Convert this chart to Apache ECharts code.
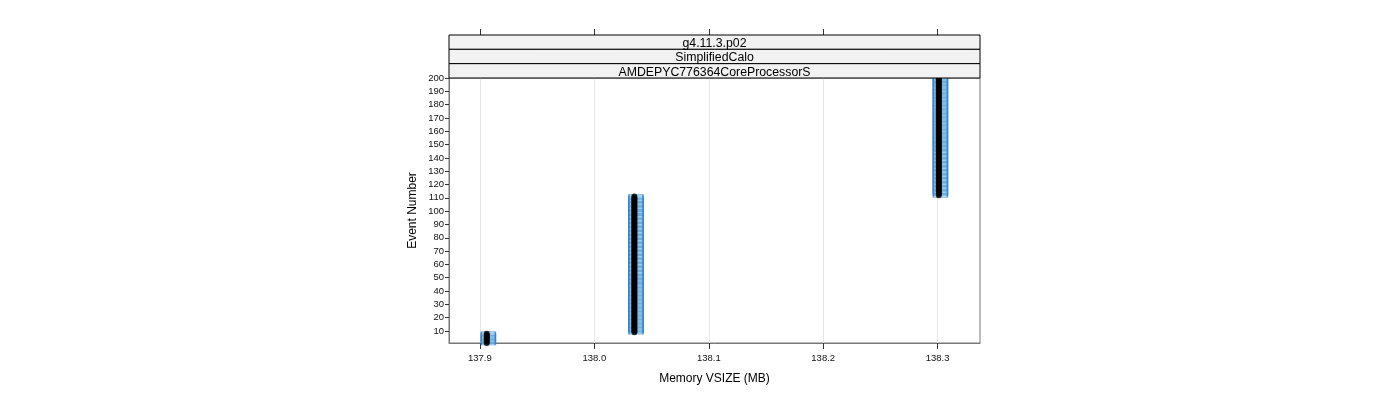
<!DOCTYPE html>
<html>
<head>
<meta charset="utf-8">
<script src="https://cdn.jsdelivr.net/npm/echarts@6/dist/echarts.min.js"></script>
<style>
  html, body { margin: 0; padding: 0; background: #fff; }
  #chart { width: 1400px; height: 400px; }
</style>
</head>
<body>
<div id="chart"></div>
<script>
// strip labels (lattice panel header), top to bottom
const stripLabels = ['g4.11.3.p02', 'SimplifiedCalo', 'AMDEPYC776364CoreProcessorS'];

const xTicks = [137.9, 138.0, 138.1, 138.2, 138.3];
const yTicks = [10, 20, 30, 40, 50, 60, 70, 80, 90, 100,
                110, 120, 130, 140, 150, 160, 170, 180, 190, 200];

// event number for each measurement
const eventNumber = [
  1, 2, 3, 4, 5, 6, 7, 8, 9, 10, 11, 12, 13, 14, 15, 16, 17, 18, 19, 20,
  21, 22, 23, 24, 25, 26, 27, 28, 29, 30, 31, 32, 33, 34, 35, 36, 37, 38, 39, 40,
  41, 42, 43, 44, 45, 46, 47, 48, 49, 50, 51, 52, 53, 54, 55, 56, 57, 58, 59, 60,
  61, 62, 63, 64, 65, 66, 67, 68, 69, 70, 71, 72, 73, 74, 75, 76, 77, 78, 79, 80,
  81, 82, 83, 84, 85, 86, 87, 88, 89, 90, 91, 92, 93, 94, 95, 96, 97, 98, 99, 100,
  101, 102, 103, 104, 105, 106, 107, 108, 109, 110, 111, 112, 113, 114, 115, 116, 117, 118, 119, 120,
  121, 122, 123, 124, 125, 126, 127, 128, 129, 130, 131, 132, 133, 134, 135, 136, 137, 138, 139, 140,
  141, 142, 143, 144, 145, 146, 147, 148, 149, 150, 151, 152, 153, 154, 155, 156, 157, 158, 159, 160,
  161, 162, 163, 164, 165, 166, 167, 168, 169, 170, 171, 172, 173, 174, 175, 176, 177, 178, 179, 180,
  181, 182, 183, 184, 185, 186, 187, 188, 189, 190, 191, 192, 193, 194, 195, 196, 197, 198, 199, 200
];

// memory VSIZE (MB) per event, same order as eventNumber
const memVsize = [
  137.906, 137.906, 137.906, 137.906, 137.906, 137.906, 137.906, 137.906, 138.035, 138.035,
  138.035, 138.035, 138.035, 138.035, 138.035, 138.035, 138.035, 138.035, 138.035, 138.035,
  138.035, 138.035, 138.035, 138.035, 138.035, 138.035, 138.035, 138.035, 138.035, 138.035,
  138.035, 138.035, 138.035, 138.035, 138.035, 138.035, 138.035, 138.035, 138.035, 138.035,
  138.035, 138.035, 138.035, 138.035, 138.035, 138.035, 138.035, 138.035, 138.035, 138.035,
  138.035, 138.035, 138.035, 138.035, 138.035, 138.035, 138.035, 138.035, 138.035, 138.035,
  138.035, 138.035, 138.035, 138.035, 138.035, 138.035, 138.035, 138.035, 138.035, 138.035,
  138.035, 138.035, 138.035, 138.035, 138.035, 138.035, 138.035, 138.035, 138.035, 138.035,
  138.035, 138.035, 138.035, 138.035, 138.035, 138.035, 138.035, 138.035, 138.035, 138.035,
  138.035, 138.035, 138.035, 138.035, 138.035, 138.035, 138.035, 138.035, 138.035, 138.035,
  138.035, 138.035, 138.035, 138.035, 138.035, 138.035, 138.035, 138.035, 138.035, 138.035,
  138.035, 138.301, 138.301, 138.301, 138.301, 138.301, 138.301, 138.301, 138.301, 138.301,
  138.301, 138.301, 138.301, 138.301, 138.301, 138.301, 138.301, 138.301, 138.301, 138.301,
  138.301, 138.301, 138.301, 138.301, 138.301, 138.301, 138.301, 138.301, 138.301, 138.301,
  138.301, 138.301, 138.301, 138.301, 138.301, 138.301, 138.301, 138.301, 138.301, 138.301,
  138.301, 138.301, 138.301, 138.301, 138.301, 138.301, 138.301, 138.301, 138.301, 138.301,
  138.301, 138.301, 138.301, 138.301, 138.301, 138.301, 138.301, 138.301, 138.301, 138.301,
  138.301, 138.301, 138.301, 138.301, 138.301, 138.301, 138.301, 138.301, 138.301, 138.301,
  138.301, 138.301, 138.301, 138.301, 138.301, 138.301, 138.301, 138.301, 138.301, 138.301,
  138.301, 138.301, 138.301, 138.301, 138.301, 138.301, 138.301, 138.301, 138.301, 138.301
];

const points = memVsize.map((m, i) => [m, eventNumber[i]]);

const FONT = 'Liberation Sans, Arial, sans-serif';
const panel = { left: 449, top: 78, width: 531, height: 265 };
const stripTop = 35;
const stripH = (panel.top - stripTop) / stripLabels.length;

// strip boxes with their labels
const strips = [];
stripLabels.forEach((txt, i) => {
  strips.push({
    type: 'rect',
    shape: { x: panel.left, y: stripTop + i * stripH, width: panel.width, height: stripH },
    style: { fill: '#f2f2f2', stroke: '#000', lineWidth: 1 },
    z: 10
  });
  strips.push({
    type: 'text',
    x: panel.left + panel.width / 2,
    y: stripTop + i * stripH + stripH / 2 + 1.5,
    style: {
      text: txt, fill: '#000', font: '12.3px ' + FONT,
      align: 'center', verticalAlign: 'middle'
    },
    z: 11
  });
});

const chart = echarts.init(document.getElementById('chart'), null, { renderer: 'canvas' });

chart.setOption({
  animation: false,
  backgroundColor: '#fff',
  textStyle: { fontFamily: FONT },
  grid: {
    left: panel.left, top: panel.top, width: panel.width, height: panel.height,
    show: true, borderColor: '#777', borderWidth: 1, backgroundColor: 'transparent'
  },
  xAxis: [
    {
      type: 'value', position: 'bottom',
      min: 137.873, max: 138.337,
      name: 'Memory VSIZE (MB)', nameLocation: 'middle', nameGap: 30,
      nameTextStyle: { fontSize: 12, color: '#000', fontFamily: FONT },
      axisLine: { show: true, lineStyle: { color: '#777', width: 1 } },
      axisTick: { show: true, customValues: xTicks, length: 6, lineStyle: { color: '#333' } },
      axisLabel: {
        customValues: xTicks, fontSize: 9.5, color: '#111', margin: 10,
        formatter: v => v.toFixed(1)
      },
      splitLine: { show: true, lineStyle: { color: '#e6e6e6', width: 1 } }
    },
    {
      type: 'value', position: 'top', offset: panel.top - stripTop,
      min: 137.873, max: 138.337,
      axisLine: { show: false },
      axisTick: { show: true, customValues: xTicks, length: 6, lineStyle: { color: '#333' } },
      axisLabel: { show: false },
      splitLine: { show: false }
    }
  ],
  yAxis: {
    type: 'value', min: 1, max: 200,
    name: 'Event Number', nameLocation: 'middle', nameGap: 30,
    nameTextStyle: { fontSize: 12, color: '#000', fontFamily: FONT },
    axisLine: { show: true, lineStyle: { color: '#777', width: 1 } },
    axisTick: { show: true, customValues: yTicks, length: 4, lineStyle: { color: '#333' } },
    axisLabel: { customValues: yTicks, fontSize: 9.5, color: '#111', margin: 5 },
    splitLine: { show: false }
  },
  graphic: strips,
  series: [
    {
      name: 'range', type: 'scatter', data: points,
      symbol: 'rect', symbolSize: [14, 4], symbolOffset: [1.6, 0],
      itemStyle: {
        color: 'rgba(150,205,242,0.85)', borderColor: '#2f80c4',
        borderWidth: 0.8
      },
      clip: true, z: 2
    },
    {
      name: 'vsize', type: 'scatter', data: points,
      symbol: 'circle', symbolSize: 6,
      itemStyle: { color: '#000' },
      clip: true, z: 3
    }
  ]
});
</script>
</body>
</html>
